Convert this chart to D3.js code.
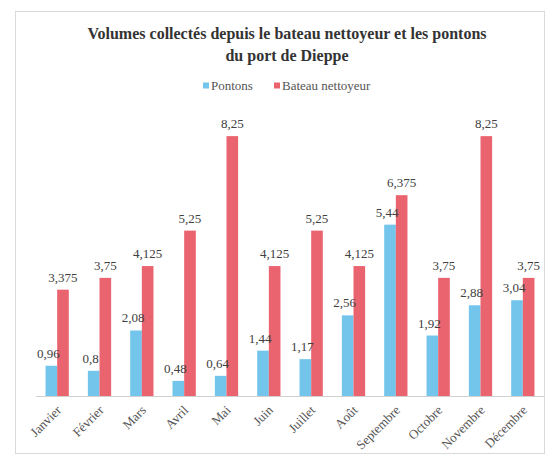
<!DOCTYPE html>
<html lang="fr">
<head>
    <meta charset="UTF-8">
    <title>Volumes collectés - port de Dieppe</title>
    <style>
        body {
            margin: 0;
            background: #fff;
        }
    </style>
</head>
<body>
    <svg width="552" height="465" font-family="'Liberation Serif', 'DejaVu Serif', serif"></svg>

    <script src="https://d3js.org/d3.v7.min.js"></script>
    <script>
        // données
        const mois = ["Janvier", "Février", "Mars", "Avril", "Mai", "Juin", "Juillet",
                      "Août", "Septembre", "Octobre", "Novembre", "Décembre"];
        const pontons = [0.96, 0.8, 2.08, 0.48, 0.64, 1.44, 1.17, 2.56, 5.44, 1.92, 2.88, 3.04];
        const bateau = [3.375, 3.75, 4.125, 5.25, 8.25, 4.125, 5.25, 4.125, 6.375, 3.75, 8.25, 3.75];
        const series = ["Pontons", "Bateau nettoyeur"];
        const couleurs = ["#74c5ec", "#ea6470"];

        const serif = "'Liberation Serif', 'DejaVu Serif', serif";
        const svg = d3.select("svg");

        // cadre du graphique
        svg.append("rect")
            .attr("x", 15.5).attr("y", 11.5)
            .attr("width", 529).attr("height", 442)
            .attr("fill", "#fff")
            .attr("stroke", "#d9d9d9");

        // titre
        const titre = svg.append("text")
            .attr("text-anchor", "middle")
            .attr("font-family", serif)
            .style("font-size", "16px")
            .style("font-weight", "bold")
            .attr("fill", "#333");
        titre.append("tspan").attr("x", 287).attr("y", 39)
            .text("Volumes collectés depuis le bateau nettoyeur et les pontons");
        titre.append("tspan").attr("x", 287).attr("y", 61)
            .text("du port de Dieppe");

        const x = d3.scaleBand().domain(mois).range([36, 544]).paddingInner(0.45).paddingOuter(0.225);
        const xs = d3.scaleBand().domain(series).range([0, x.bandwidth()]);
        const y = d3.scaleLinear().domain([0, 9]).range([396, 112.5]);

        const rows = mois.map((m, i) => ({ mois: m, vals: [pontons[i], bateau[i]] }));
        const fmt = v => String(v).replace(".", ",");

        // légende
        const leg = svg.append("g").attr("transform", "translate(206, 86)");
        const legX = [0, 71];
        series.forEach((s, i) => {
            leg.append("rect").attr("x", legX[i] - 3).attr("y", -3.5)
                .attr("width", 6).attr("height", 6).attr("fill", couleurs[i]);
            leg.append("text").attr("x", legX[i] + 5).attr("y", 4)
                .attr("font-family", serif)
                .style("font-size", "13px").attr("fill", "#555").text(s);
        });

        // barres
        const g = svg.selectAll("g.mois")
            .data(rows)
            .enter()
            .append("g")
            .attr("class", "mois")
            .attr("transform", d => `translate(${x(d.mois)},0)`);

        g.selectAll("rect")
            .data(d => d.vals.map((v, i) => ({ s: series[i], v: v, i: i })))
            .enter()
            .append("rect")
            .attr("x", d => xs(d.s))
            .attr("y", d => y(d.v))
            .attr("width", xs.bandwidth())
            .attr("height", d => y(0) - y(d.v))
            .attr("fill", d => couleurs[d.i]);

        // étiquettes de valeurs
        g.selectAll("text")
            .data(d => d.vals.map((v, i) => ({ s: series[i], v: v, i: i })))
            .enter()
            .append("text")
            .attr("x", d => xs(d.s) + xs.bandwidth() / 2 - (d.i === 0 ? 3 : 0))
            .attr("y", d => y(d.v) - 8)
            .attr("text-anchor", "middle")
            .attr("font-family", serif)
            .style("font-size", "13px")
            .attr("fill", "#404040")
            .text(d => fmt(d.v));

        // axe des abscisses
        svg.append("line")
            .attr("x1", 36).attr("x2", 544)
            .attr("y1", y(0) + 0.5).attr("y2", y(0) + 0.5)
            .attr("stroke", "#d0d0d0");

        svg.selectAll("text.mois")
            .data(mois)
            .enter()
            .append("text")
            .attr("class", "mois")
            .attr("text-anchor", "end")
            .attr("font-family", serif)
            .attr("transform", d => `translate(${x(d) + x.bandwidth() / 2 + 5},${y(0) + 15}) rotate(-45)`)
            .style("font-size", "13px")
            .attr("fill", "#555")
            .text(d => d);
    </script>
</body>
</html>
